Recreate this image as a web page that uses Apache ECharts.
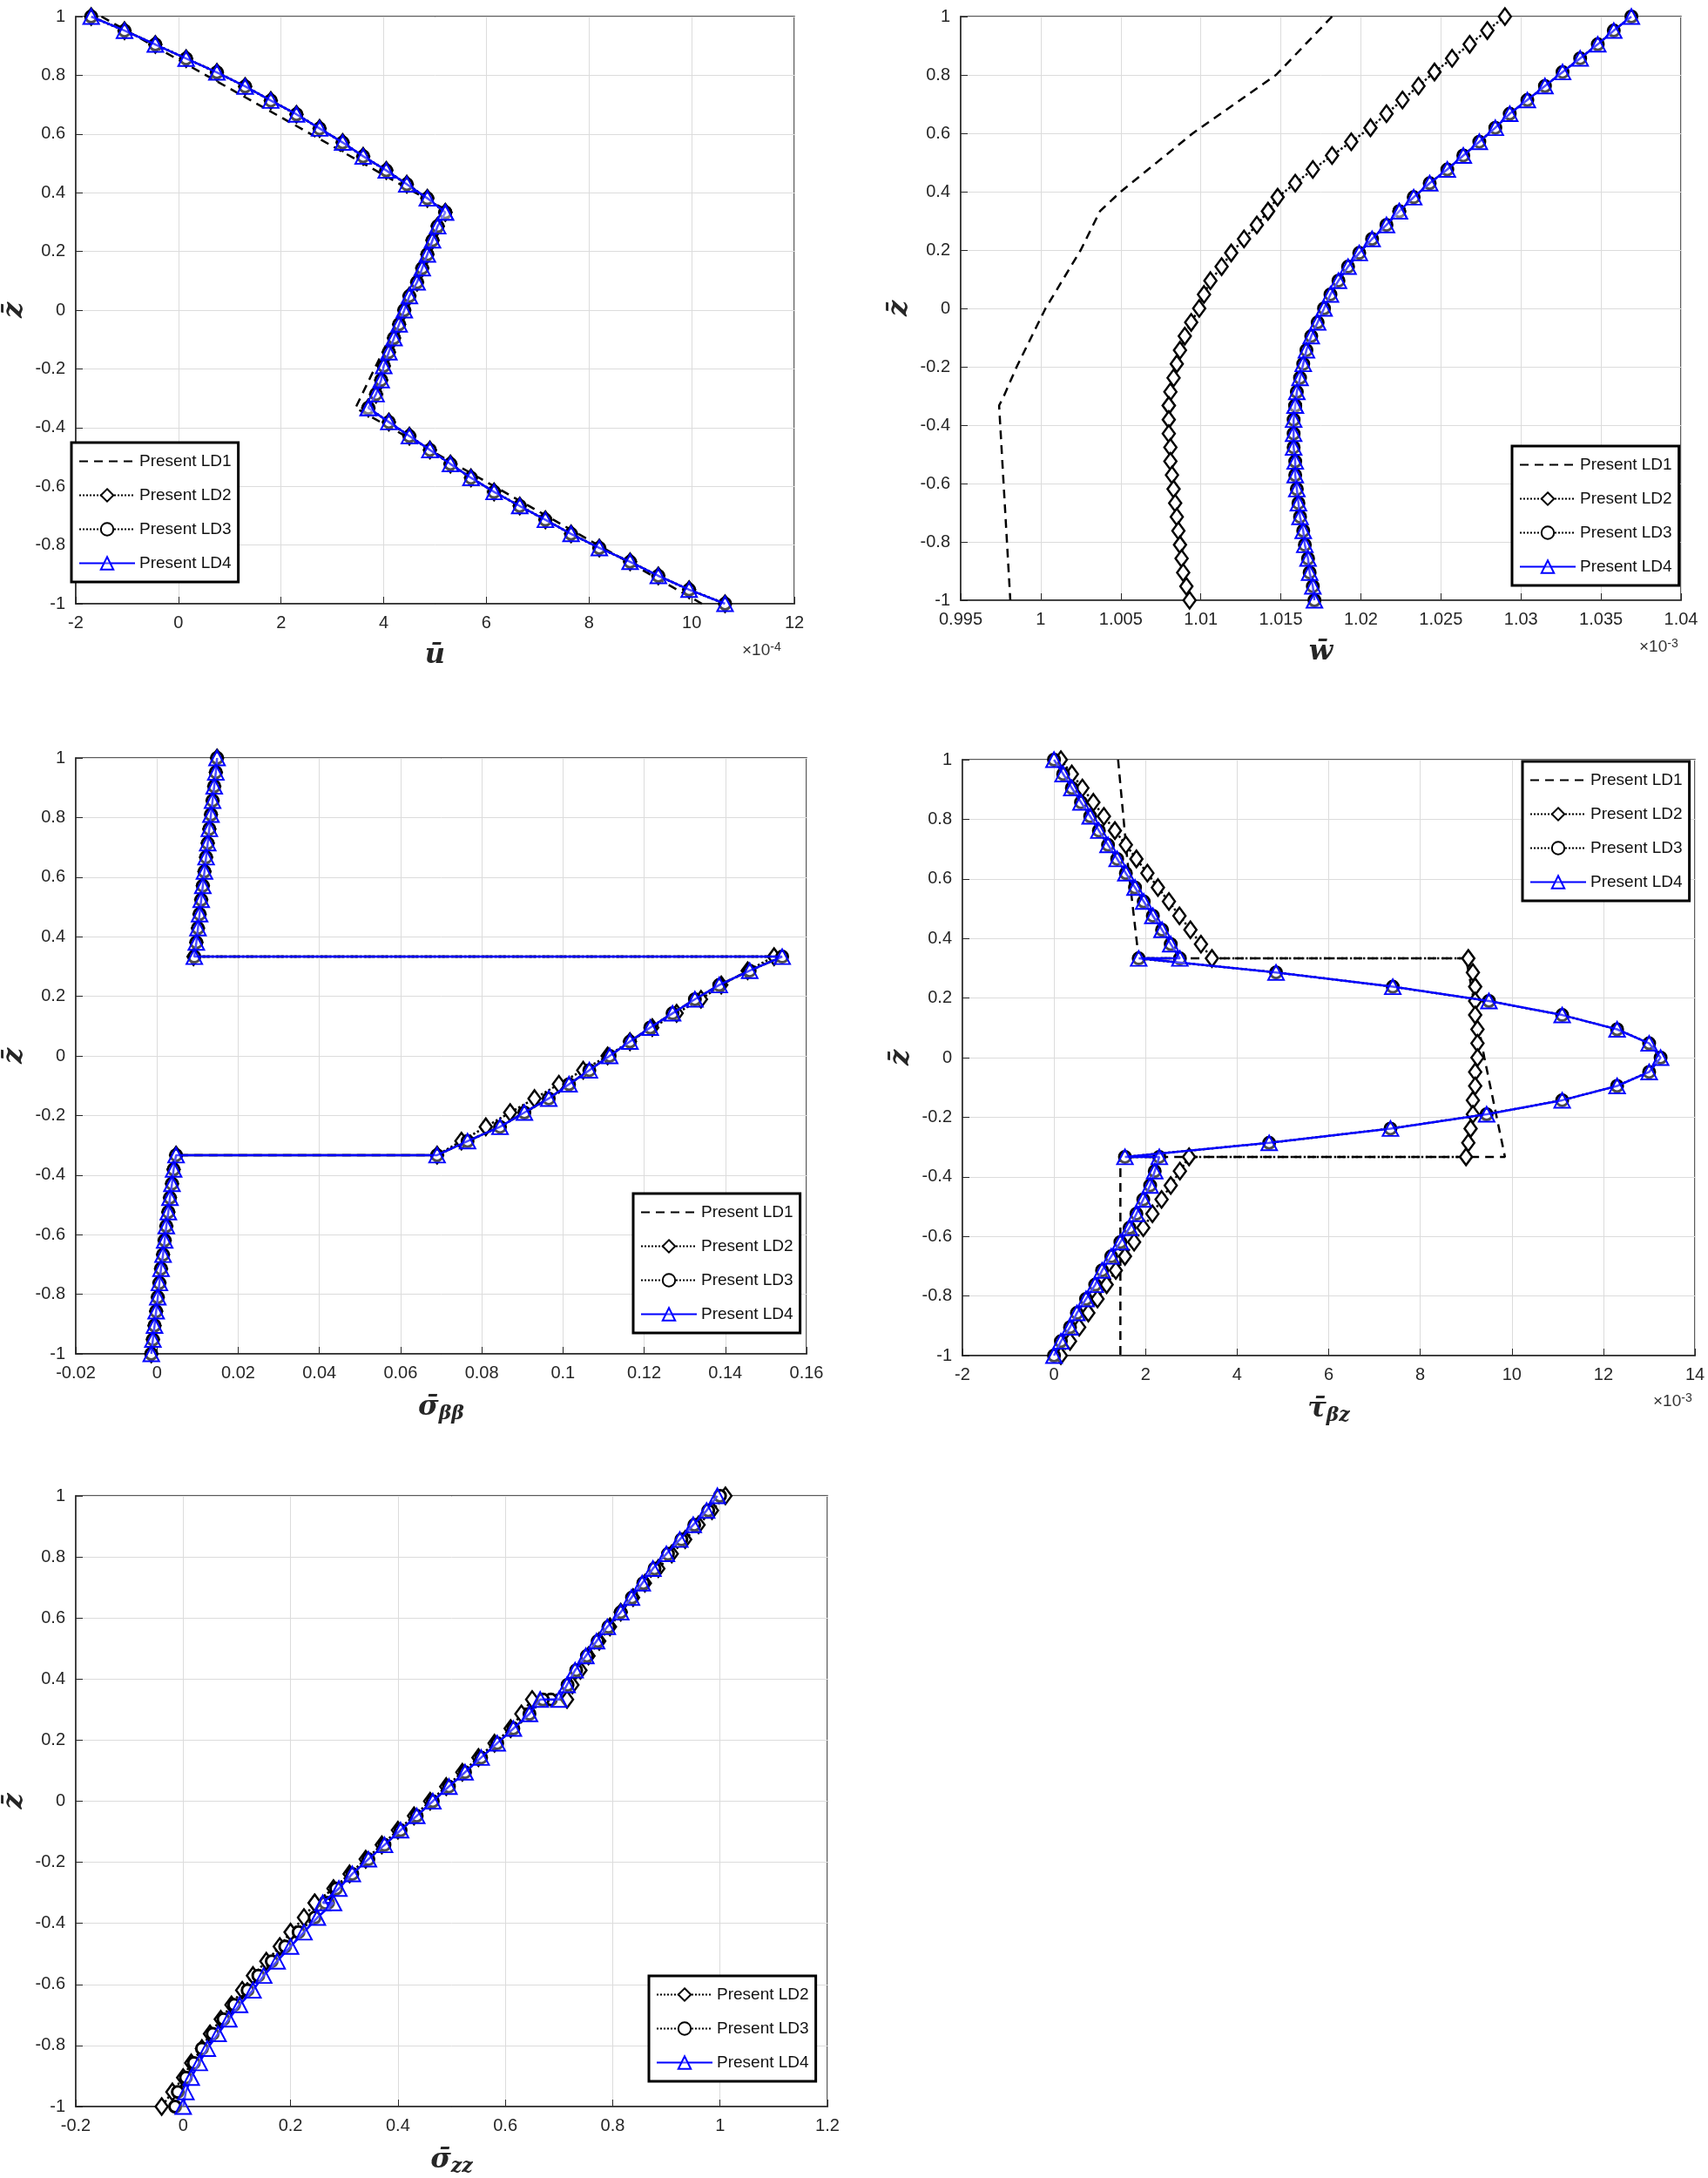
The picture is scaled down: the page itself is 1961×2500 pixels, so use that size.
<!DOCTYPE html>
<html><head><meta charset="utf-8">
<script src="https://cdn.jsdelivr.net/npm/echarts@6/dist/echarts.min.js"></script>
<style>html,body{margin:0;padding:0;background:#fff}#c{width:1961px;height:2500px}</style>
</head><body><div id="c"></div>
<script>
// through-thickness coordinate (top layer, middle layer, bottom layer; interfaces repeated)
const Z = [1,0.952,0.905,0.857,0.810,0.762,0.714,0.667,0.619,0.571,0.524,0.476,0.429,0.381,0.333,
  0.333,0.286,0.238,0.190,0.143,0.095,0.048,0,-0.048,-0.095,-0.143,-0.190,-0.238,-0.286,-0.333,
  -0.333,-0.381,-0.429,-0.476,-0.524,-0.571,-0.619,-0.667,-0.714,-0.762,-0.810,-0.857,-0.905,-0.952,-1];
const SERIES_NAMES = ['Present LD1','Present LD2','Present LD3','Present LD4'];

// Panel 1: u (x1e-4)
const U_LD1_Z = [1,0.333,-0.333,-1];
const U_LD1 = [-1.5,5.3,3.45,10.2];
const U_LD2 = [-1.7,-1.05,-0.45,0.15,0.75,1.3,1.8,2.3,2.75,3.2,3.6,4.05,4.45,4.85,5.2,
  5.2,5.05,4.95,4.85,4.75,4.65,4.5,4.4,4.3,4.2,4.1,4.0,3.95,3.85,3.7,
  3.7,4.1,4.5,4.9,5.3,5.7,6.15,6.65,7.15,7.65,8.2,8.8,9.35,9.95,10.65];
const U_LD3 = U_LD2;
const U_LD4 = [-1.7,-1.05,-0.45,0.15,0.75,1.3,1.8,2.3,2.75,3.2,3.6,4.05,4.45,4.85,5.2,
  5.2,5.05,4.95,4.85,4.75,4.65,4.5,4.4,4.3,4.2,4.1,4.0,3.95,3.85,3.7,
  3.7,4.1,4.5,4.9,5.3,5.7,6.15,6.65,7.15,7.65,8.2,8.8,9.35,9.95,10.65];

// Panel 2: w (x1e-3)
const W_LD1_Z = [1,0.8,0.6,0.4,0.333,0.2,0,-0.2,-0.3,-0.333,-1];
const W_LD1 = [1.0182,1.0147,1.0095,1.0050,1.0037,1.0025,1.0003,0.9985,0.9977,0.9974,0.9981];
const W_LD2 = [1.0290,1.0279,1.0268,1.0257,1.0246,1.0236,1.0226,1.0216,1.0206,1.0194,1.0182,1.0170,1.0159,1.0148,1.0142,
  1.0142,1.0135,1.0127,1.0119,1.0113,1.0106,1.0102,1.0099,1.0094,1.0090,1.0087,1.0085,1.0083,1.0081,1.0080,
  1.0080,1.0080,1.0080,1.0081,1.0081,1.0082,1.0083,1.0084,1.0085,1.0086,1.0087,1.0088,1.0089,1.0091,1.0093];
const W_LD4 = [1.0369,1.0358,1.0348,1.0337,1.0326,1.0315,1.0304,1.0293,1.0284,1.0274,1.0264,1.0254,1.0243,1.0233,1.0224,
  1.0224,1.0216,1.0207,1.0199,1.0192,1.0186,1.0181,1.0177,1.0173,1.0169,1.0166,1.0164,1.0162,1.0160,1.0159,
  1.0159,1.0158,1.0158,1.0158,1.0159,1.0159,1.0160,1.0161,1.0162,1.0164,1.0165,1.0167,1.0168,1.0170,1.0171];
const W_LD3 = W_LD4;

// Panel 3: sigma_bb
const S_LD4 = [0.0148,0.0145,0.0141,0.0137,0.0133,0.0129,0.0125,0.0121,0.0117,0.0113,0.0109,0.0105,0.0101,0.0097,0.0092,
  0.154,0.146,0.1385,0.1325,0.127,0.1215,0.1165,0.1115,0.1065,0.1015,0.0965,0.0905,0.0845,0.0765,0.069,
  0.0047,0.0041,0.0037,0.0032,0.0028,0.0023,0.0019,0.0015,0.0010,0.0006,0.0002,-0.0002,-0.0006,-0.0010,-0.0014];
const S_LD2 = [0.0148,0.0145,0.0141,0.0137,0.0133,0.0129,0.0125,0.0121,0.0117,0.0113,0.0109,0.0105,0.0101,0.0097,0.0090,
  0.152,0.1455,0.139,0.134,0.128,0.122,0.1165,0.111,0.105,0.099,0.093,0.087,0.081,0.075,0.069,
  0.0047,0.0041,0.0037,0.0032,0.0028,0.0023,0.0019,0.0015,0.0010,0.0006,0.0002,-0.0002,-0.0006,-0.0010,-0.0014];
const S_LD3 = S_LD4;
const S_LD1 = S_LD4;

// Panel 4: tau_bz (x1e-3)
const T_LD1_Z = [1,0.667,0.333,0.333,0,-0.333,-0.333,-1];
const T_LD1 = [1.4,1.6,1.85,9.0,9.4,9.85,1.45,1.45];
const T_LD2 = [0.15,0.39,0.62,0.86,1.09,1.33,1.57,1.8,2.04,2.27,2.51,2.74,2.98,3.21,3.45,
  9.05,9.15,9.2,9.2,9.2,9.25,9.25,9.25,9.2,9.2,9.15,9.15,9.1,9.05,9.0,
  2.95,2.75,2.55,2.35,2.15,1.95,1.75,1.55,1.35,1.15,0.95,0.75,0.55,0.35,0.15];
const T_LD4 = [0,0.2,0.39,0.59,0.79,0.98,1.18,1.38,1.57,1.77,1.96,2.16,2.36,2.55,2.75,
  1.85,4.85,7.4,9.5,11.1,12.3,13.0,13.25,13.0,12.3,11.1,9.45,7.35,4.7,1.55,
  2.3,2.2,2.1,1.95,1.8,1.65,1.45,1.25,1.05,0.9,0.7,0.5,0.35,0.15,0];
const T_LD3 = T_LD4;

// Panel 5: sigma_zz
const Q_LD4 = [0.995,0.975,0.95,0.925,0.9,0.875,0.855,0.835,0.815,0.79,0.77,0.75,0.73,0.715,0.70,
  0.665,0.645,0.615,0.585,0.555,0.525,0.495,0.465,0.435,0.405,0.375,0.345,0.315,0.29,0.26,
  0.28,0.25,0.225,0.2,0.175,0.15,0.13,0.105,0.085,0.065,0.045,0.03,0.015,0.005,0.0];
const Q_LD3 = [1.0,0.978,0.952,0.928,0.903,0.878,0.857,0.836,0.815,0.792,0.772,0.752,0.732,0.716,0.685,
  0.67,0.645,0.615,0.585,0.555,0.525,0.495,0.465,0.435,0.405,0.375,0.345,0.315,0.285,0.27,
  0.265,0.245,0.215,0.19,0.165,0.14,0.12,0.095,0.075,0.055,0.035,0.02,0.005,-0.01,-0.015];
const Q_LD2 = [1.01,0.985,0.96,0.935,0.91,0.885,0.86,0.838,0.815,0.795,0.775,0.755,0.74,0.725,0.715,
  0.65,0.63,0.61,0.58,0.55,0.52,0.49,0.46,0.43,0.4,0.37,0.34,0.31,0.28,0.245,
  0.245,0.225,0.2,0.18,0.155,0.13,0.11,0.09,0.07,0.05,0.035,0.015,0.0,-0.02,-0.04];

const pts = (xs, zs) => xs.map((x, i) => [x, zs[i]]);
const FONT = 'Liberation Sans';
const grids = [
  {left:80, top:19, width:832, height:674},
  {left:1103, top:19, width:827, height:670},
  {left:84, top:870, width:842, height:684},
  {left:1105, top:872, width:841, height:684},
  {left:84, top:1717, width:866, height:701}
];
const xCfg = [
  {min:-2, max:12, interval:2, name:'{i|ū}'},
  {min:0.995, max:1.04, interval:0.005, name:'{i|w̄}'},
  {min:-0.02, max:0.16, interval:0.02, name:'{i|σ̄}{s|ββ}'},
  {min:-2, max:14, interval:2, name:'{i|τ̄}{s|βz}'},
  {min:-0.2, max:1.2, interval:0.2, name:'{i|σ̄}{s|zz}'}
];
const fmt = v => { const r = Math.round(v*100000)/100000; return String(r); };
const xAxis = xCfg.map((c, i) => ({
  gridIndex:i, type:'value', min:c.min, max:c.max, interval:c.interval,
  name:c.name, nameLocation:'middle', nameGap:44,
  nameTextStyle:{rich:{i:{fontFamily:'DejaVu Serif', fontStyle:'italic', fontWeight:'bold', fontSize:32, color:'#262626'},
    s:{fontFamily:'DejaVu Serif', fontStyle:'italic', fontWeight:'bold', fontSize:22, color:'#262626', padding:[14,0,0,0]}}},
  axisLine:{show:true, onZero:false, lineStyle:{color:'#262626', width:1.5}},
  axisTick:{inside:true, length:8, lineStyle:{color:'#262626'}},
  axisLabel:{fontFamily:FONT, fontSize:20, color:'#262626', margin:12, formatter:fmt},
  splitLine:{show:true, lineStyle:{color:'#dcdcdc', width:1}}
}));
const yAxis = grids.map((g, i) => ({
  gridIndex:i, type:'value', min:-1, max:1, interval:0.2,
  name:'z̄', nameLocation:'middle', nameGap:54, nameRotate:90,
  nameTextStyle:{fontFamily:'DejaVu Serif', fontStyle:'italic', fontWeight:'bold', fontSize:32, color:'#262626'},
  axisLine:{show:true, onZero:false, lineStyle:{color:'#262626', width:1.5}},
  axisTick:{inside:true, length:8, lineStyle:{color:'#262626'}},
  axisLabel:{fontFamily:FONT, fontSize:20, color:'#262626', margin:12, formatter:fmt},
  splitLine:{show:true, lineStyle:{color:'#dcdcdc', width:1}}
}));
grids.forEach(g => { g.show = true; g.borderColor = '#262626'; g.borderWidth = 1.5; g.backgroundColor = '#fff'; });

function ld1(i, data) { return {name:'Present LD1', type:'line', xAxisIndex:i, yAxisIndex:i, data,
  symbol:'none', lineStyle:{color:'#000', width:2.5, type:[10,7]}, itemStyle:{color:'#000'}, z:2}; }
function ld2(i, data) { return {name:'Present LD2', type:'line', xAxisIndex:i, yAxisIndex:i, data,
  symbol:'diamond', symbolSize:[14,19], lineStyle:{color:'#000', width:2.5, type:'dotted'},
  itemStyle:{color:'#fff', borderColor:'#000', borderWidth:2.5}, z:3}; }
function ld3(i, data) { return {name:'Present LD3', type:'line', xAxisIndex:i, yAxisIndex:i, data,
  symbol:'circle', symbolSize:13, lineStyle:{color:'#000', width:2.5, type:'dotted'},
  itemStyle:{color:'#fff', borderColor:'#000', borderWidth:3}, z:4}; }
function ld4(i, data) { return {name:'Present LD4', type:'line', xAxisIndex:i, yAxisIndex:i, data,
  symbol:'triangle', symbolSize:[18,17], lineStyle:{color:'#0000ff', width:2.5},
  itemStyle:{color:'rgba(255,255,255,0.3)', borderColor:'#0000ff', borderWidth:2}, z:5}; }

const series = [
  ld1(0, pts(U_LD1, U_LD1_Z)), ld2(0, pts(U_LD2, Z)), ld3(0, pts(U_LD3, Z)), ld4(0, pts(U_LD4, Z)),
  ld1(1, pts(W_LD1, W_LD1_Z)), ld2(1, pts(W_LD2, Z)), ld3(1, pts(W_LD3, Z)), ld4(1, pts(W_LD4, Z)),
  ld1(2, pts(S_LD1, Z)), ld2(2, pts(S_LD2, Z)), ld3(2, pts(S_LD3, Z)), ld4(2, pts(S_LD4, Z)),
  ld1(3, pts(T_LD1, T_LD1_Z)), ld2(3, pts(T_LD2, Z)), ld3(3, pts(T_LD3, Z)), ld4(3, pts(T_LD4, Z)),
  ld2(4, pts(Q_LD2, Z)), ld3(4, pts(Q_LD3, Z)), ld4(4, pts(Q_LD4, Z))
];
function legend(pos, names) {
  const list = (names || SERIES_NAMES).map(n => n === 'Present LD1'
    ? {name:n, itemStyle:{opacity:0}} : {name:n});
  return Object.assign({orient:'vertical', data:list, selectedMode:false,
    backgroundColor:'#fff', borderColor:'#000', borderWidth:3, padding:[12,8,12,8],
    itemGap:20, itemWidth:64, itemHeight:18, textStyle:{fontFamily:FONT, fontSize:19, color:'#111'}}, pos);
}
const legends = [
  legend({left:82, top:508}),
  legend({left:1736, top:512}),
  legend({left:727, top:1370}),
  legend({left:1748, top:874}),
  legend({left:745, top:2268}, ['Present LD2','Present LD3','Present LD4'])
];
const expo = (x, y, e) => ({type:'text', left:x, top:y, style:{text:'×10{s|' + e + '}', fontFamily:FONT, fontSize:19, fill:'#333',
  rich:{s:{fontSize:14, fill:'#333', verticalAlign:'top', padding:[0,0,8,0]}}}});
const chart = echarts.init(document.getElementById('c'), null, {renderer:'canvas'});
chart.setOption({
  backgroundColor:'#fff', animation:false,
  grid:grids, xAxis, yAxis, legend:legends, series,
  graphic:[expo(852, 736, '-4'), expo(1882, 732, '-3'), expo(1898, 1598, '-3')]
});
</script></body></html>
